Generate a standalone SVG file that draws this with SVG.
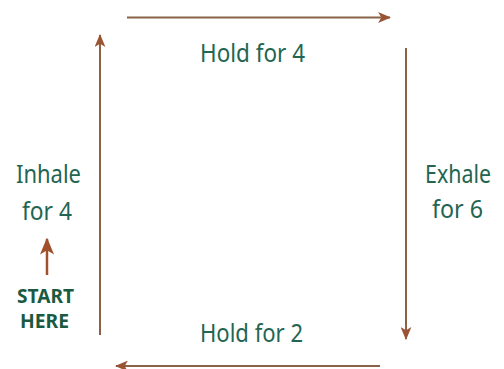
<svg xmlns="http://www.w3.org/2000/svg" width="504" height="369" viewBox="0 0 504 369">
<defs>
<marker id="ah" viewBox="0 0 12 10" refX="11" refY="5" markerWidth="13" markerHeight="11" markerUnits="userSpaceOnUse" orient="auto">
<path d="M0,0 L12,5 L0,10 L3,5 Z" fill="#9a5434"/>
</marker>
<marker id="ahs" viewBox="0 0 12 10" refX="11" refY="5" markerWidth="17" markerHeight="15" markerUnits="userSpaceOnUse" orient="auto">
<path d="M0,0 L12,5 L0,10 L3,5 Z" fill="#a0502a"/>
</marker>
<style>
.c{stroke:#8a6248;stroke-width:2;fill:none;marker-end:url(#ah)}
.t{font-family:"Noto Sans","Liberation Sans",sans-serif;font-size:25px;fill:#236552;text-anchor:start}
.b{font-family:"Noto Sans","Liberation Sans",sans-serif;font-size:19px;font-weight:bold;fill:#1b5a42;text-anchor:start}
</style>
</defs>
<rect width="504" height="369" fill="#ffffff"/>
<g id="connectors">
<line class="c" x1="127" y1="17.5" x2="390" y2="17.5"/>
<line class="c" x1="406" y1="48" x2="406" y2="339"/>
<line class="c" x1="380" y1="366" x2="116" y2="366"/>
<line class="c" x1="100" y1="335" x2="100" y2="35"/>
<line stroke="#a0502a" stroke-width="2.5" marker-end="url(#ahs)" x1="47" y1="275" x2="47" y2="239"/>
</g>
<g id="hold4"><text class="t" x="200" y="62" textLength="105" lengthAdjust="spacingAndGlyphs">Hold for 4</text></g>
<g id="exhale"><text class="t" x="425" y="183" textLength="66" lengthAdjust="spacingAndGlyphs">Exhale</text><text class="t" x="432" y="218" textLength="51" lengthAdjust="spacingAndGlyphs">for 6</text></g>
<g id="hold2"><text class="t" x="200" y="342" textLength="103" lengthAdjust="spacingAndGlyphs">Hold for 2</text></g>
<g id="inhale"><text class="t" x="16" y="183" textLength="65" lengthAdjust="spacingAndGlyphs">Inhale</text><text class="t" x="22" y="220" textLength="50" lengthAdjust="spacingAndGlyphs">for 4</text></g>
<g id="start"><text class="b" x="17" y="303" textLength="57" lengthAdjust="spacingAndGlyphs">START</text><text class="b" x="20" y="328" textLength="49" lengthAdjust="spacingAndGlyphs">HERE</text></g>
</svg>
